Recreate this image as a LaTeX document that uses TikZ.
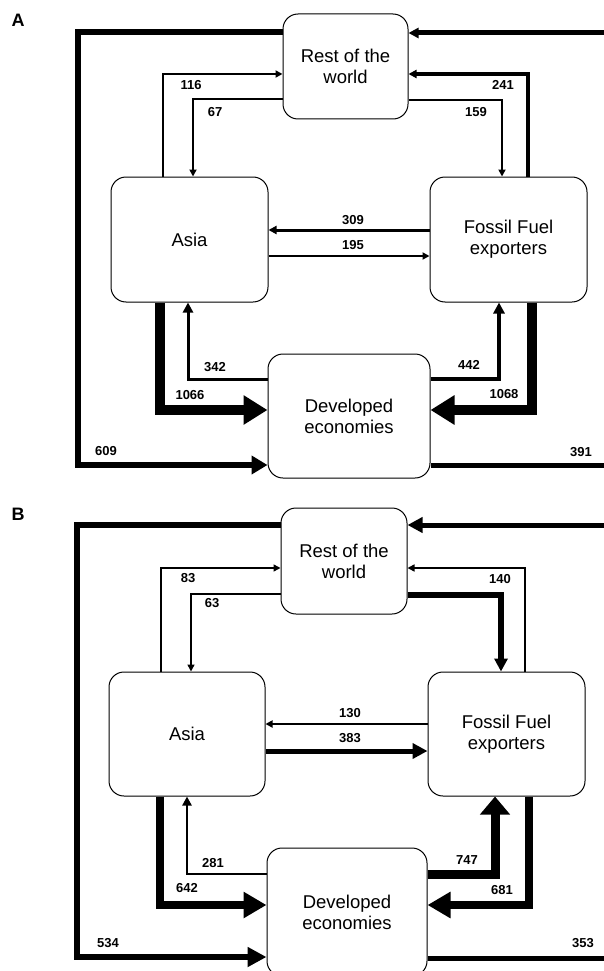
\documentclass[tikz,border=0pt]{standalone}
\usepackage{fontspec}
\setmainfont{Liberation Sans}
\usetikzlibrary{arrows.meta}
\tikzset{
  box/.style={draw, line width=1pt, rounded corners=15pt, fill=white, align=center,
    font=\fontsize{18.5}{21}\selectfont, inner sep=0pt},
  lab/.style={font=\bfseries\fontsize{13}{13}\selectfont, inner sep=0pt},
  panel/.style={font=\bfseries\fontsize{18}{18}\selectfont, inner sep=0pt},
  flow/.style={draw, line width=#1, line join=miter},
  sm/.style={-{Triangle[length=7pt,width=7pt]}},
  md/.style={-{Triangle[length=#1,width=#1]}},
  big/.style={-{Triangle[length=24pt,width=28pt]}},
}
\begin{document}
\begin{tikzpicture}[x=1pt,y=-1pt]
\useasboundingbox (0,0) rectangle (604,971);
\clip (0,0) rectangle (604,971);
% ---------------- Panel A ----------------
\node[panel] (pA) at (18,20) {A};
\node[box, minimum width=125pt, minimum height=105pt] (rowA) at (345.5,66.5) {Rest of the\\world};
\node[box, minimum width=157pt, minimum height=125pt] (asiaA) at (189.5,239.5) {Asia};
\node[box, minimum width=157pt, minimum height=125pt] (ffA) at (508.5,239.5) {Fossil Fuel\\exporters};
\node[box, minimum width=162pt, minimum height=124pt] (deA) at (349,416) {Developed\\economies};
\coordinate (inA) at (604,33);
\coordinate (outA) at (604,465);
% outer loop
\draw[flow=6.5pt, -{Triangle[length=16pt,width=18pt]}] (rowA.west |- 0,32) -- (78,32) |- (deA.west |- 0,465);
\draw[flow=5pt, md=10pt] (inA) -- (rowA.east |- inA);
\draw[flow=5pt] (deA.east |- outA) -- (outA);
% Asia <-> RoW
\draw[flow=2pt, sm] (asiaA.north -| 163,0) |- (rowA.west |- 0,74);
\draw[flow=2pt, sm] (rowA.west |- 0,99) -| (asiaA.north -| 193,0);
% FF <-> RoW
\draw[flow=4pt, md=8pt] (ffA.north -| 528,0) |- (rowA.east |- 0,74);
\draw[flow=2pt, sm] (rowA.east |- 0,100) -| (ffA.north -| 502,0);
% FF <-> Asia
\draw[flow=3pt, md=8pt] (ffA.west |- 0,230) -- (asiaA.east |- 0,230);
\draw[flow=2pt, sm] (asiaA.east |- 0,256) -- (ffA.west |- 0,256);
% Asia <-> DE
\draw[flow=10pt, big] (asiaA.south -| 160,0) |- (deA.west |- 0,410);
\draw[flow=3pt, md=10pt] (deA.west |- 0,379) -| (asiaA.south -| 188,0);
% FF <-> DE
\draw[flow=10pt, big] (ffA.south -| 532,0) |- (deA.east |- 0,410);
\draw[flow=4pt, md=11pt] (deA.east |- 0,379) -| (ffA.south -| 499,0);
% labels A
\node[lab] (l116) at (191,85) {116};
\node[lab] (l67) at (215,112) {67};
\node[lab] (l241) at (503,85) {241};
\node[lab] (l159) at (476,112) {159};
\node[lab] (l309) at (353,220) {309};
\node[lab] (l195) at (353,245) {195};
\node[lab] (l342) at (215,367) {342};
\node[lab] (l1066) at (190,395) {1066};
\node[lab] (l442) at (469,365) {442};
\node[lab] (l1068) at (504,394) {1068};
\node[lab] (l609) at (106,451) {609};
\node[lab] (l391) at (581,452) {391};
% ---------------- Panel B ----------------
\node[panel] (pB) at (18,514) {B};
\node[box, minimum width=126pt, minimum height=106pt] (rowB) at (344,561) {Rest of the\\world};
\node[box, minimum width=156pt, minimum height=124pt] (asiaB) at (187,734) {Asia};
\node[box, minimum width=157pt, minimum height=124pt] (ffB) at (506.5,734) {Fossil Fuel\\exporters};
\node[box, minimum width=160pt, minimum height=128pt] (deB) at (347,912) {Developed\\economies};
\coordinate (inB) at (604,525);
\coordinate (outB) at (604,958);
% outer loop
\draw[flow=6.5pt, -{Triangle[length=19pt,width=19pt]}] (rowB.west |- 0,525) -- (77,525) |- (deB.west |- 0,957);
\draw[flow=5pt, md=15pt] (inB) -- (rowB.east |- inB);
\draw[flow=5pt] (deB.east |- outB) -- (outB);
% Asia <-> RoW
\draw[flow=1.5pt, sm] (asiaB.north -| 161,0) |- (rowB.west |- 0,568);
\draw[flow=1.5pt, sm] (rowB.west |- 0,594) -| (asiaB.north -| 191,0);
% FF <-> RoW
\draw[flow=1.5pt, sm] (ffB.north -| 525,0) |- (rowB.east |- 0,568);
\draw[flow=5.5pt, md=13pt] (rowB.east |- 0,595) -| (ffB.north -| 501,0);
% FF <-> Asia
\draw[flow=2pt, sm] (ffB.west |- 0,724) -- (asiaB.east |- 0,724);
\draw[flow=5pt, md=15pt] (asiaB.east |- 0,751) -- (ffB.west |- 0,751);
% Asia <-> DE
\draw[flow=8pt, -{Triangle[length=23pt,width=25pt]}] (asiaB.south -| 160,0) |- (deB.west |- 0,905);
\draw[flow=2.5pt, md=9pt] (deB.west |- 0,874) -| (asiaB.south -| 187,0);
% FF <-> DE
\draw[flow=8pt, -{Triangle[length=23pt,width=25pt]}] (ffB.south -| 529,0) |- (deB.east |- 0,905);
\draw[flow=9pt, -{Triangle[length=18pt,width=29pt]}] (deB.east |- 0,874) -| (ffB.south -| 495,0);
% labels B
\node[lab] (l83) at (188,578) {83};
\node[lab] (l63) at (212,603) {63};
\node[lab] (l140) at (500,579) {140};
\node[lab] (l130) at (350,713) {130};
\node[lab] (l383) at (350,738) {383};
\node[lab] (l281) at (213,863) {281};
\node[lab] (l642) at (187,888) {642};
\node[lab] (l747) at (467,860) {747};
\node[lab] (l681) at (502,890) {681};
\node[lab] (l534) at (108,943) {534};
\node[lab] (l353) at (583,943) {353};
\end{tikzpicture}
\end{document}
